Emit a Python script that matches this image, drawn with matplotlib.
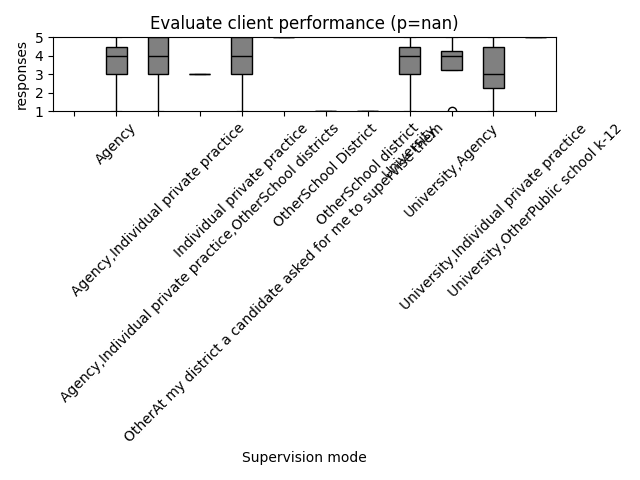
import numpy as np
import matplotlib
matplotlib.use("Agg")
import matplotlib.pyplot as plt

modes = ["",
         "Agency",
         "Agency,Individual private practice",
         "Agency,Individual private practice,OtherSchool districts",
         "Individual private practice",
         "OtherAt my district a candidate asked for me to supervise them",
         "OtherSchool District",
         "OtherSchool district",
         "University",
         "University,Agency",
         "University,Individual private practice",
         "University,OtherPublic school k-12"]

responses = [[],
             [1, 3, 3, 4, 4, 5, 5],
             [1, 3, 4, 5, 5],
             [3],
             [1, 3, 4, 5, 5],
             [5],
             [1],
             [1],
             [1, 3, 3, 4, 4, 5, 5],
             [1, 4, 4, 5],
             [1, 2, 3, 3, 5, 5],
             [5]]

fig, ax = plt.subplots(figsize=(6.4, 4.8), dpi=100)
pos = np.arange(1, len(modes) + 1)
ax.boxplot(responses, positions=pos, widths=0.5, patch_artist=True,
           boxprops=dict(facecolor="gray", edgecolor="black", zorder=2),
           medianprops=dict(color="black", zorder=2.5),
           whiskerprops=dict(color="black", zorder=1.8),
           capprops=dict(color="darkgray", zorder=1.5),
           flierprops=dict(marker="o", markerfacecolor="none", markeredgecolor="black"))
ax.set_xticks(pos)
ax.set_xticklabels(modes, rotation=45)
ax.set_ylim(1, 5)
ax.set_yticks([1, 2, 3, 4, 5])
ax.set_title("Evaluate client performance (p=nan)")
ax.set_xlabel("Supervision mode")
ax.set_ylabel("responses")
fig.tight_layout()
fig.savefig("out.png")
